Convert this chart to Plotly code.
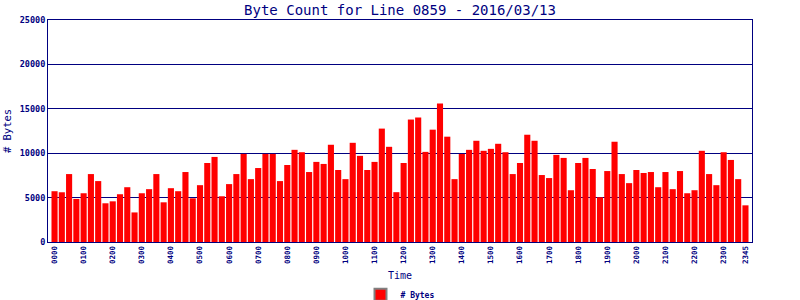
import plotly.graph_objects as go

# 15-minute intervals 0000 .. 2345
times = [f"{h:02d}{m:02d}" for h in range(24) for m in (0, 15, 30, 45)]

bytes_count = [
    5720, 5600, 7650, 4850, 5490, 7650, 6860, 4360, 4580, 5380, 6170, 3330,
    5490, 5950, 7650, 4470, 6060, 5720, 7880, 4920, 6400, 8900, 9580, 5150,
    6520, 7650, 9920, 7080, 8330, 9920, 9920, 6860, 8670, 10380, 10110, 7880,
    9020, 8790, 10950, 8110, 7080, 11170, 9700, 8110, 9020, 12770, 10720, 5610,
    8900, 13790, 14020, 10150, 12650, 15610, 11860, 7080, 9920, 10380, 11400, 10270,
    10490, 11060, 10110, 7650, 8900, 12080, 11400, 7540, 7200, 9810, 9470, 5830,
    8900, 9470, 8220, 5040, 7990, 11290, 7650, 6630, 8110, 7770, 7880, 6170,
    7880, 5950, 7990, 5490, 5830, 10270, 7650, 6400, 10110, 9240, 7080, 4130,
]

x_tick_labels = ["0000", "0100", "0200", "0300", "0400", "0500", "0600", "0700",
                 "0800", "0900", "1000", "1100", "1200", "1300", "1400", "1500",
                 "1600", "1700", "1800", "1900", "2000", "2100", "2200", "2300", "2345"]
y_tick_values = [0, 5000, 10000, 15000, 20000, 25000]
y_tick_labels = ["0", "5000", "10000", "15000", "20000", "25000"]

NAVY = "#000080"
FONT = "DejaVu Sans Mono"

fig = go.Figure()
fig.add_trace(go.Bar(
    x=times, y=bytes_count, name="# Bytes",
    marker=dict(color="#FF0000", line=dict(width=0)),
    showlegend=False,
))
# legend swatch (red with grey outline)
fig.add_trace(go.Bar(
    x=[None], y=[None], name="# Bytes",
    marker=dict(color="#FF0000", line=dict(color="#808080", width=1.5)),
    showlegend=True,
))

fig.update_layout(
    width=800, height=300,
    margin=dict(l=48, r=48, t=20, b=58, autoexpand=False),
    paper_bgcolor="white", plot_bgcolor="white",
    bargap=0.16,
    font=dict(family=FONT, color=NAVY),
    title=dict(text="Byte Count for Line 0859 - 2016/03/13",
               x=0.5, xanchor="center", y=0.968, yanchor="middle",
               font=dict(size=14, color=NAVY, family=FONT)),
    legend=dict(orientation="h", x=0.5, xanchor="center", y=-0.238, yanchor="middle",
                font=dict(size=8, color=NAVY, family=FONT, weight="bold"),
                itemwidth=30, tracegroupgap=0,
                itemsizing="constant", bgcolor="rgba(0,0,0,0)"),
    xaxis=dict(
        type="category",
        categoryorder="array", categoryarray=times,
        range=[-0.9, len(times) - 0.1],
        tickmode="array", tickvals=x_tick_labels, ticktext=x_tick_labels,
        tickangle=-90, tickfont=dict(size=7.5, color=NAVY, family=FONT, weight="bold"),
        ticks="", showgrid=False, zeroline=False,
        showline=True, linecolor=NAVY, linewidth=1, mirror=True,
        title=dict(text="Time", font=dict(size=10, color=NAVY, family=FONT), standoff=8),
    ),
    yaxis=dict(
        range=[0, 25000],
        tickmode="array", tickvals=y_tick_values, ticktext=y_tick_labels,
        tickfont=dict(size=8.5, color=NAVY, family=FONT, weight="bold"),
        ticks="", showgrid=True, gridcolor=NAVY, gridwidth=1,
        zeroline=False,
        showline=True, linecolor=NAVY, linewidth=1, mirror=True,
        title=dict(text="# Bytes", font=dict(size=10.5, color=NAVY, family=FONT), standoff=6),
    ),
)

fig.write_html("out.html")
